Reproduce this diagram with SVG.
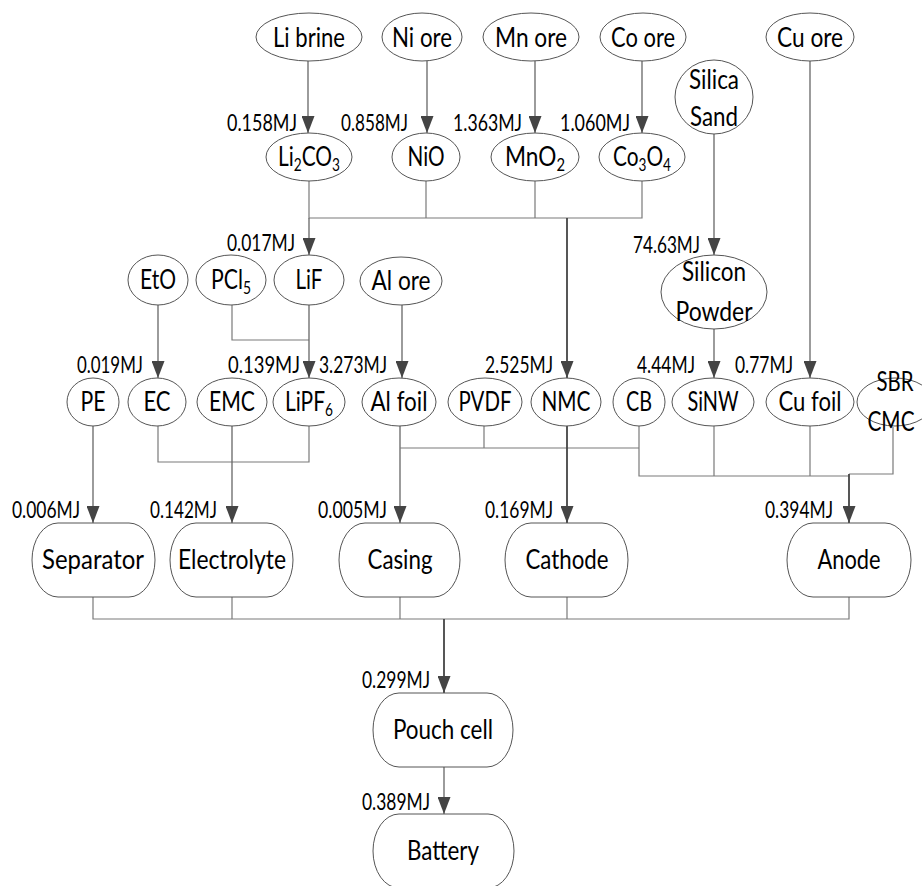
<svg xmlns="http://www.w3.org/2000/svg" width="922" height="886" viewBox="0 0 922 886">
<style>
  .n ellipse, .n rect { fill: #fff; stroke: #555; stroke-width: 1; }
  .t { font-family: Lato, "Liberation Sans", Arial, sans-serif; font-size: 26px; fill: #000; text-anchor: middle; }
  .lab { font-family: Lato, "Liberation Sans", Arial, sans-serif; font-size: 23px; fill: #000; text-anchor: end; }
  .sub { font-size: 17px; }
  .c { fill: none; stroke: #7a7a7a; stroke-width: 1.2; }
  .a { fill: none; stroke: #666; stroke-width: 1.3; marker-end: url(#ah); }
  .da { fill: none; stroke: #444; stroke-width: 1.8; marker-end: url(#ah); }
</style>
<defs>
  <marker id="ah" viewBox="0 -6.5 17 13" refX="17" refY="0" markerWidth="17" markerHeight="13" markerUnits="userSpaceOnUse" orient="auto">
    <path d="M0,-6.5 L17,0 L0,6.5 z" fill="#444"/>
  </marker>
</defs>
<rect width="922" height="886" fill="#fff"/>

<g id="connectors">
  <line class="a" x1="308" y1="61" x2="308" y2="133"/>
  <line class="a" x1="427" y1="61" x2="427" y2="133"/>
  <line class="a" x1="535" y1="61" x2="535" y2="133"/>
  <line class="a" x1="642" y1="61" x2="642" y2="133"/>
  <line class="a" x1="714" y1="134" x2="714" y2="255"/>
  <line class="a" x1="810" y1="61" x2="810" y2="378"/>
  <path class="c" d="M309,181 V218 H642 V181 M426,181 V218 M535,181 V218"/>
  <line class="a" x1="309" y1="218" x2="309" y2="255"/>
  <line class="da" x1="567" y1="218" x2="567" y2="378"/>
  <line class="a" x1="158" y1="305" x2="158" y2="378"/>
  <path class="c" d="M232,305 V340 H309"/>
  <line class="a" x1="309" y1="305" x2="309" y2="378"/>
  <line class="a" x1="402" y1="305" x2="402" y2="378"/>
  <line class="a" x1="714" y1="329" x2="714" y2="378"/>
  <line class="a" x1="93" y1="426" x2="93" y2="523"/>
  <path class="c" d="M158,426 V462 H309 V426"/>
  <line class="a" x1="232" y1="426" x2="232" y2="523"/>
  <line class="a" x1="400" y1="426" x2="400" y2="523"/>
  <path class="c" d="M400,448 H639 M484,426 V448"/>
  <line class="da" x1="567" y1="426" x2="567" y2="523"/>
  <path class="c" d="M639,426 V476 H849 M714,426 V476 M810,426 V476 M893,427 V474 H849"/>
  <line class="da" x1="849" y1="474" x2="849" y2="523"/>
  <path class="c" d="M93,597 V619 H849 V597 M232,597 V619 M400,597 V619 M567,597 V619"/>
  <line class="da" x1="444" y1="619" x2="444" y2="693"/>
  <line class="a" x1="444" y1="767" x2="444" y2="814"/>
</g>

<g id="labels">
  <text class="lab" x="297" y="131" textLength="70" lengthAdjust="spacingAndGlyphs">0.158MJ</text>
  <text class="lab" x="408" y="131" textLength="67" lengthAdjust="spacingAndGlyphs">0.858MJ</text>
  <text class="lab" x="522" y="131" textLength="69" lengthAdjust="spacingAndGlyphs">1.363MJ</text>
  <text class="lab" x="630" y="131" textLength="70" lengthAdjust="spacingAndGlyphs">1.060MJ</text>
  <text class="lab" x="700" y="253" textLength="67" lengthAdjust="spacingAndGlyphs">74.63MJ</text>
  <text class="lab" x="295" y="251" textLength="68" lengthAdjust="spacingAndGlyphs">0.017MJ</text>
  <text class="lab" x="143" y="373" textLength="66" lengthAdjust="spacingAndGlyphs">0.019MJ</text>
  <text class="lab" x="300" y="373" textLength="72" lengthAdjust="spacingAndGlyphs">0.139MJ</text>
  <text class="lab" x="387" y="373" textLength="68" lengthAdjust="spacingAndGlyphs">3.273MJ</text>
  <text class="lab" x="553" y="373" textLength="68" lengthAdjust="spacingAndGlyphs">2.525MJ</text>
  <text class="lab" x="695" y="373" textLength="58" lengthAdjust="spacingAndGlyphs">4.44MJ</text>
  <text class="lab" x="793" y="373" textLength="58" lengthAdjust="spacingAndGlyphs">0.77MJ</text>
  <text class="lab" x="80" y="518" textLength="68" lengthAdjust="spacingAndGlyphs">0.006MJ</text>
  <text class="lab" x="217" y="518" textLength="67" lengthAdjust="spacingAndGlyphs">0.142MJ</text>
  <text class="lab" x="387" y="518" textLength="69" lengthAdjust="spacingAndGlyphs">0.005MJ</text>
  <text class="lab" x="553" y="518" textLength="68" lengthAdjust="spacingAndGlyphs">0.169MJ</text>
  <text class="lab" x="833" y="518" textLength="68" lengthAdjust="spacingAndGlyphs">0.394MJ</text>
  <text class="lab" x="430" y="688" textLength="68" lengthAdjust="spacingAndGlyphs">0.299MJ</text>
  <text class="lab" x="430" y="810" textLength="68" lengthAdjust="spacingAndGlyphs">0.389MJ</text>
</g>

<g id="librine" class="n"><ellipse cx="309" cy="37" rx="53" ry="24"/><text class="t" x="309" y="47" textLength="72" lengthAdjust="spacingAndGlyphs">Li brine</text></g>
<g id="niore" class="n"><ellipse cx="422" cy="37" rx="40" ry="24"/><text class="t" x="422" y="47" textLength="60" lengthAdjust="spacingAndGlyphs">Ni ore</text></g>
<g id="mnore" class="n"><ellipse cx="531" cy="37" rx="48" ry="24"/><text class="t" x="531" y="47" textLength="72" lengthAdjust="spacingAndGlyphs">Mn ore</text></g>
<g id="coore" class="n"><ellipse cx="643" cy="37" rx="43" ry="24"/><text class="t" x="643" y="47" textLength="64" lengthAdjust="spacingAndGlyphs">Co ore</text></g>
<g id="cuore" class="n"><ellipse cx="810" cy="37" rx="44" ry="24"/><text class="t" x="810" y="47" textLength="66" lengthAdjust="spacingAndGlyphs">Cu ore</text></g>

<g id="li2co3" class="n"><ellipse cx="309" cy="157" rx="43" ry="24"/><text class="t" x="309" y="166" textLength="62" lengthAdjust="spacingAndGlyphs">Li<tspan class="sub" dy="5">2</tspan><tspan dy="-5">CO</tspan><tspan class="sub" dy="5">3</tspan></text></g>
<g id="nio" class="n"><ellipse cx="426" cy="157" rx="34" ry="24"/><text class="t" x="426" y="166" textLength="37" lengthAdjust="spacingAndGlyphs">NiO</text></g>
<g id="mno2" class="n"><ellipse cx="535" cy="157" rx="44" ry="24"/><text class="t" x="535" y="166" textLength="60" lengthAdjust="spacingAndGlyphs">MnO<tspan class="sub" dy="5">2</tspan></text></g>
<g id="co3o4" class="n"><ellipse cx="642" cy="157" rx="43" ry="24"/><text class="t" x="642" y="166" textLength="58" lengthAdjust="spacingAndGlyphs">Co<tspan class="sub" dy="5">3</tspan><tspan dy="-5">O</tspan><tspan class="sub" dy="5">4</tspan></text></g>
<g id="silica" class="n"><ellipse cx="714" cy="97" rx="39" ry="37"/><text class="t" x="714" y="89" textLength="50" lengthAdjust="spacingAndGlyphs">Silica</text><text class="t" x="714" y="126" textLength="48" lengthAdjust="spacingAndGlyphs">Sand</text></g>

<g id="eto" class="n"><ellipse cx="158" cy="280" rx="30" ry="25"/><text class="t" x="158" y="289" textLength="36" lengthAdjust="spacingAndGlyphs">EtO</text></g>
<g id="pcl5" class="n"><ellipse cx="231" cy="280" rx="35" ry="25"/><text class="t" x="231" y="289" textLength="40" lengthAdjust="spacingAndGlyphs">PCl<tspan class="sub" dy="5">5</tspan></text></g>
<g id="lif" class="n"><ellipse cx="309" cy="280" rx="35" ry="25"/><text class="t" x="309" y="289" textLength="27" lengthAdjust="spacingAndGlyphs">LiF</text></g>
<g id="alore" class="n"><ellipse cx="401" cy="281" rx="41" ry="24"/><text class="t" x="401" y="290" textLength="59" lengthAdjust="spacingAndGlyphs">Al ore</text></g>
<g id="siliconpowder" class="n"><ellipse cx="714" cy="292" rx="53" ry="37"/><text class="t" x="714" y="281" textLength="64" lengthAdjust="spacingAndGlyphs">Silicon</text><text class="t" x="714" y="321" textLength="77" lengthAdjust="spacingAndGlyphs">Powder</text></g>

<g id="pe" class="n"><ellipse cx="93" cy="402" rx="26" ry="24"/><text class="t" x="93" y="411" textLength="25" lengthAdjust="spacingAndGlyphs">PE</text></g>
<g id="ec" class="n"><ellipse cx="157" cy="402" rx="29" ry="24"/><text class="t" x="157" y="411" textLength="27" lengthAdjust="spacingAndGlyphs">EC</text></g>
<g id="emc" class="n"><ellipse cx="232" cy="402" rx="35" ry="24"/><text class="t" x="232" y="411" textLength="46" lengthAdjust="spacingAndGlyphs">EMC</text></g>
<g id="lipf6" class="n"><ellipse cx="309" cy="402" rx="36" ry="24"/><text class="t" x="309" y="411" textLength="48" lengthAdjust="spacingAndGlyphs">LiPF<tspan class="sub" dy="5">6</tspan></text></g>
<g id="alfoil" class="n"><ellipse cx="399" cy="402" rx="37" ry="24"/><text class="t" x="399" y="411" textLength="57" lengthAdjust="spacingAndGlyphs">Al foil</text></g>
<g id="pvdf" class="n"><ellipse cx="485" cy="402" rx="37" ry="24"/><text class="t" x="485" y="411" textLength="53" lengthAdjust="spacingAndGlyphs">PVDF</text></g>
<g id="nmc" class="n"><ellipse cx="566" cy="402" rx="35" ry="24"/><text class="t" x="566" y="411" textLength="49" lengthAdjust="spacingAndGlyphs">NMC</text></g>
<g id="cb" class="n"><ellipse cx="639" cy="402" rx="26" ry="24"/><text class="t" x="639" y="411" textLength="26" lengthAdjust="spacingAndGlyphs">CB</text></g>
<g id="sinw" class="n"><ellipse cx="713" cy="402" rx="41" ry="24"/><text class="t" x="713" y="411" textLength="51" lengthAdjust="spacingAndGlyphs">SiNW</text></g>
<g id="cufoil" class="n"><ellipse cx="810" cy="402" rx="44" ry="24"/><text class="t" x="810" y="411" textLength="63" lengthAdjust="spacingAndGlyphs">Cu foil</text></g>
<g id="sbrcmc" class="n"><ellipse cx="895" cy="402" rx="38" ry="24"/><text class="t" x="895" y="391" textLength="37" lengthAdjust="spacingAndGlyphs">SBR</text><text class="t" x="891" y="431" textLength="47" lengthAdjust="spacingAndGlyphs">CMC</text></g>

<g id="separator" class="n"><rect x="32" y="523" width="123" height="74" rx="26" ry="37"/><text class="t" x="93" y="569" textLength="102" lengthAdjust="spacingAndGlyphs">Separator</text></g>
<g id="electrolyte" class="n"><rect x="170" y="523" width="123" height="74" rx="26" ry="37"/><text class="t" x="232" y="569" textLength="108" lengthAdjust="spacingAndGlyphs">Electrolyte</text></g>
<g id="casing" class="n"><rect x="339" y="523" width="121" height="74" rx="26" ry="37"/><text class="t" x="400" y="569" textLength="65" lengthAdjust="spacingAndGlyphs">Casing</text></g>
<g id="cathode" class="n"><rect x="505" y="523" width="123" height="74" rx="26" ry="37"/><text class="t" x="567" y="569" textLength="83" lengthAdjust="spacingAndGlyphs">Cathode</text></g>
<g id="anode" class="n"><rect x="787" y="523" width="124" height="74" rx="26" ry="37"/><text class="t" x="849" y="569" textLength="63" lengthAdjust="spacingAndGlyphs">Anode</text></g>
<g id="pouch" class="n"><rect x="373" y="693" width="140" height="74" rx="26" ry="37"/><text class="t" x="443" y="739" textLength="100" lengthAdjust="spacingAndGlyphs">Pouch cell</text></g>
<g id="battery" class="n"><rect x="373" y="814" width="141" height="74" rx="26" ry="37"/><text class="t" x="443" y="860" textLength="72" lengthAdjust="spacingAndGlyphs">Battery</text></g>
</svg>
